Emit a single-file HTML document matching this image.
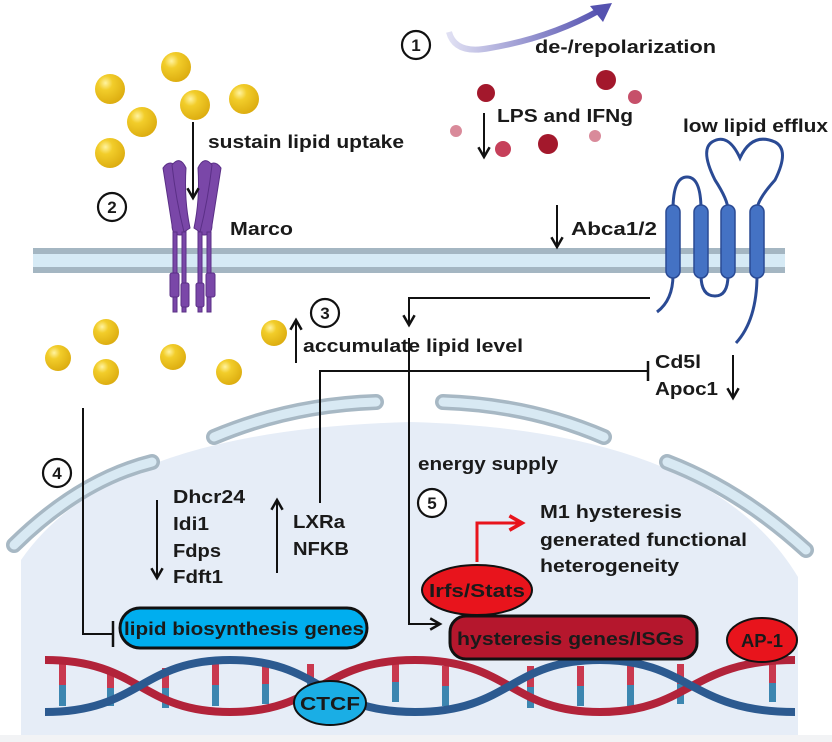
<!DOCTYPE html>
<html><head><meta charset="utf-8"><style>
html,body{margin:0;padding:0;background:#fff;}
svg{display:block;}
text{font-family:"Liberation Sans",sans-serif;font-weight:bold;fill:#1a1a1a;}
</style></head><body>
<svg width="832" height="742" viewBox="0 0 832 742" xmlns="http://www.w3.org/2000/svg">
<defs>
<marker id="ah" viewBox="0 0 10 10" refX="8" refY="5" markerWidth="7" markerHeight="7" orient="auto"><path d="M1,1 L8,5 L1,9" fill="none" stroke="#111" stroke-width="1.8"/></marker>
<marker id="ahr" viewBox="0 0 10 10" refX="8" refY="5" markerWidth="6" markerHeight="6" orient="auto"><path d="M1,1 L8,5 L1,9" fill="none" stroke="#e8141c" stroke-width="2"/></marker>
<radialGradient id="yg" cx="0.35" cy="0.3" r="0.8"><stop offset="0" stop-color="#fff3a0"/><stop offset="0.3" stop-color="#f2cd2a"/><stop offset="1" stop-color="#d9a80c"/></radialGradient>
<linearGradient id="pg" x1="0" y1="0" x2="1" y2="0"><stop offset="0" stop-color="#e0e0f3"/><stop offset="1" stop-color="#5552b0"/></linearGradient>
<linearGradient id="rung" x1="0" y1="0" x2="0" y2="1"><stop offset="0" stop-color="#c9394f"/><stop offset="0.5" stop-color="#c9394f"/><stop offset="0.5" stop-color="#3c86b0"/><stop offset="1" stop-color="#3c86b0"/></linearGradient>
</defs>
<path d="M21,560 Q110,430 410,422 Q710,430 798,577 L798,742 L21,742 Z" fill="#e6edf7"/>
<rect x="0" y="735" width="832" height="7" fill="#f2f3f5"/>
<g fill="none" stroke-linecap="round">
<g stroke="#a7b8c4" stroke-width="16">
<path d="M14,545 Q80,480 152,462"/><path d="M214,437 Q290,405 376,402"/><path d="M443,402 Q530,405 604,437"/><path d="M667,462 Q740,490 806,550"/></g>
<g stroke="#d8e9f3" stroke-width="9">
<path d="M14,545 Q80,480 152,462"/><path d="M214,437 Q290,405 376,402"/><path d="M443,402 Q530,405 604,437"/><path d="M667,462 Q740,490 806,550"/></g>
</g>
<rect x="33" y="248" width="752" height="25" fill="#d6eaf5"/>
<rect x="33" y="248" width="752" height="6" fill="#a4b6c2"/>
<rect x="33" y="267" width="752" height="6" fill="#a4b6c2"/>
<g fill="url(#rung)">
<rect x="59" y="664" width="7" height="42"/><rect x="107" y="670" width="7" height="36"/>
<rect x="162" y="668" width="7" height="40"/><rect x="212" y="664" width="7" height="42"/>
<rect x="262" y="664" width="7" height="40"/><rect x="307" y="664" width="7" height="38"/>
<rect x="392" y="662" width="7" height="40"/><rect x="442" y="666" width="7" height="40"/>
<rect x="527" y="666" width="7" height="42"/><rect x="577" y="666" width="7" height="40"/>
<rect x="627" y="664" width="7" height="42"/><rect x="677" y="664" width="7" height="40"/>
<rect x="769" y="664" width="7" height="38"/></g>
<path d="M45,660 C140,660 140,712 230,712 C320,712 320,660 415,660 C510,660 510,712 600,712 C690,712 690,660 795,660" fill="none" stroke="#b2233a" stroke-width="8"/>
<path d="M45,712 C140,712 140,660 230,660 C320,660 320,712 415,712 C510,712 510,660 600,660 C690,660 690,712 795,712" fill="none" stroke="#2c5a90" stroke-width="8"/>
<g fill="url(#yg)">
<circle cx="176" cy="67" r="15"/><circle cx="110" cy="89" r="15"/><circle cx="195" cy="105" r="15"/><circle cx="142" cy="122" r="15"/><circle cx="244" cy="99" r="15"/><circle cx="110" cy="153" r="15"/>
<circle cx="106" cy="332" r="13"/><circle cx="58" cy="358" r="13"/><circle cx="173" cy="357" r="13"/><circle cx="106" cy="372" r="13"/><circle cx="229" cy="372" r="13"/><circle cx="274" cy="333" r="13"/>
</g>
<circle cx="486" cy="93" r="9" fill="#a3182c"/><circle cx="606" cy="80" r="10" fill="#a3182c"/><circle cx="635" cy="97" r="7" fill="#c6506a"/>
<circle cx="456" cy="131" r="6" fill="#d98a9a"/><circle cx="503" cy="149" r="8" fill="#c6405a"/><circle cx="548" cy="144" r="10" fill="#a3182c"/><circle cx="595" cy="136" r="6" fill="#d98a9a"/>
<g fill="#7a47a8" stroke="#5a2f86" stroke-width="1">
<path d="M163,168 Q170,158 178,168 Q178,200 186,225 Q188,235 180,235 Q172,235 172,225 Q168,200 163,168Z"/>
<path d="M172,165 Q180,155 186,168 Q184,200 190,228 L184,232 Q176,200 172,165Z"/>
<path d="M221,168 Q214,158 206,168 Q206,200 198,225 Q196,235 204,235 Q212,235 212,225 Q216,200 221,168Z"/>
<path d="M212,165 Q204,155 198,168 Q200,200 194,228 L200,232 Q208,200 212,165Z"/>
<rect x="173" y="232" width="4" height="80"/><rect x="182" y="232" width="4" height="80"/>
<rect x="198" y="232" width="4" height="80"/><rect x="207" y="232" width="4" height="80"/>
<rect x="170" y="273" width="9" height="24" rx="2"/><rect x="181" y="283" width="8" height="24" rx="2"/>
<rect x="196" y="283" width="8" height="24" rx="2"/><rect x="206" y="273" width="9" height="24" rx="2"/>
</g>
<g fill="none" stroke="#2a4a94" stroke-width="3">
<path d="M673,210 Q673,177 687,177 Q701,177 701,210"/>
<path d="M701,275 Q701,296 715,296 Q728,296 728,275"/>
<path d="M728,210 Q728,200 715,180 Q700,150 712,142 Q728,132 740,158 Q752,132 775,142 Q790,150 775,180 Q757,200 757,210"/>
<path d="M673,275 Q673,300 657,312"/>
<path d="M757,275 Q757,320 736,343"/>
</g>
<g fill="#4472c4" stroke="#2a4a94" stroke-width="1.5">
<rect x="666" y="205" width="14" height="73" rx="7"/><rect x="694" y="205" width="14" height="73" rx="7"/>
<rect x="721" y="205" width="14" height="73" rx="7"/><rect x="750" y="205" width="14" height="73" rx="7"/>
</g>
<path d="M449,32 Q455,55 490,48 Q550,38 600,10" fill="none" stroke="url(#pg)" stroke-width="6"/>
<path d="M612,3 L590,6 L603,22 Z" fill="#5552b0"/>
<g fill="#fff" stroke="#111" stroke-width="2.2">
<circle cx="416" cy="45" r="14"/><circle cx="112" cy="207" r="14"/><circle cx="325" cy="313" r="14"/><circle cx="57" cy="473" r="14"/><circle cx="432" cy="503" r="14"/></g>
<g font-size="17" text-anchor="middle">
<text x="416" y="51">1</text><text x="112" y="213">2</text><text x="325" y="319">3</text><text x="57" y="479">4</text><text x="432" y="509">5</text></g>
<g fill="none" stroke="#111" stroke-width="2">
<line x1="193" y1="122" x2="193" y2="198" marker-end="url(#ah)"/>
<line x1="484" y1="113" x2="484" y2="157" marker-end="url(#ah)"/>
<line x1="557" y1="205" x2="557" y2="247" marker-end="url(#ah)"/>
<path d="M650,298 L409,298 L409,325" marker-end="url(#ah)"/>
<line x1="296" y1="363" x2="296" y2="320" marker-end="url(#ah)"/>
<path d="M409,338 L409,624 L440,624" marker-end="url(#ah)"/>
<path d="M320,503 L320,371 L648,371"/><line x1="648" y1="361" x2="648" y2="381" stroke-width="2.5"/>
<line x1="733" y1="355" x2="733" y2="398" marker-end="url(#ah)"/>
<path d="M83,408 L83,634 L113,634"/><line x1="113" y1="621" x2="113" y2="647" stroke-width="2.5"/>
<line x1="157" y1="500" x2="157" y2="578" marker-end="url(#ah)"/>
<line x1="277" y1="573" x2="277" y2="500" marker-end="url(#ah)"/>
</g>
<path d="M477,562 L477,523 L522,523" fill="none" stroke="#e8141c" stroke-width="3" marker-end="url(#ahr)"/>
<rect x="120" y="608" width="247" height="40" rx="20" fill="#00aeef" stroke="#111" stroke-width="3"/>
<rect x="450" y="616" width="247" height="43" rx="16" fill="#b5172d" stroke="#111" stroke-width="3"/>
<ellipse cx="477" cy="590" rx="55" ry="25" fill="#e8141c" stroke="#111" stroke-width="2"/>
<ellipse cx="762" cy="640" rx="35" ry="22" fill="#e8141c" stroke="#111" stroke-width="2"/>
<ellipse cx="330" cy="703" rx="36" ry="22" fill="#1aaee5" stroke="#111" stroke-width="2"/>
<g font-size="18">
<text x="535" y="53" textLength="181" lengthAdjust="spacingAndGlyphs">de-/repolarization</text>
<text x="497" y="122" textLength="136" lengthAdjust="spacingAndGlyphs">LPS and IFNg</text>
<text x="683" y="132" textLength="145" lengthAdjust="spacingAndGlyphs">low lipid efflux</text>
<text x="208" y="148" textLength="196" lengthAdjust="spacingAndGlyphs">sustain lipid uptake</text>
<text x="230" y="235" textLength="63" lengthAdjust="spacingAndGlyphs">Marco</text>
<text x="571" y="235" textLength="86" lengthAdjust="spacingAndGlyphs">Abca1/2</text>
<text x="303" y="352" textLength="220" lengthAdjust="spacingAndGlyphs">accumulate lipid level</text>
<text x="655" y="368" textLength="46" lengthAdjust="spacingAndGlyphs">Cd5l</text>
<text x="655" y="395" textLength="63" lengthAdjust="spacingAndGlyphs">Apoc1</text>
<text x="418" y="470" textLength="140" lengthAdjust="spacingAndGlyphs">energy supply</text>
<text x="173" y="503" textLength="72" lengthAdjust="spacingAndGlyphs">Dhcr24</text>
<text x="173" y="530" textLength="36" lengthAdjust="spacingAndGlyphs">Idi1</text>
<text x="173" y="557" textLength="48" lengthAdjust="spacingAndGlyphs">Fdps</text>
<text x="173" y="583" textLength="50" lengthAdjust="spacingAndGlyphs">Fdft1</text>
<text x="293" y="528" textLength="52" lengthAdjust="spacingAndGlyphs">LXRa</text>
<text x="293" y="555" textLength="56" lengthAdjust="spacingAndGlyphs">NFKB</text>
<text x="540" y="518" textLength="142" lengthAdjust="spacingAndGlyphs">M1 hysteresis</text>
<text x="540" y="546" textLength="207" lengthAdjust="spacingAndGlyphs">generated functional</text>
<text x="540" y="572" textLength="139" lengthAdjust="spacingAndGlyphs">heterogeneity</text>
<text x="124" y="635" textLength="240" lengthAdjust="spacingAndGlyphs">lipid biosynthesis genes</text>
<text x="457" y="645" textLength="227" lengthAdjust="spacingAndGlyphs">hysteresis genes/ISGs</text>
<text x="429" y="597" textLength="96" lengthAdjust="spacingAndGlyphs">Irfs/Stats</text>
<text x="741" y="647" textLength="42" lengthAdjust="spacingAndGlyphs">AP-1</text>
<text x="300" y="710" textLength="60" lengthAdjust="spacingAndGlyphs">CTCF</text>
</g>
</svg>
</body></html>
